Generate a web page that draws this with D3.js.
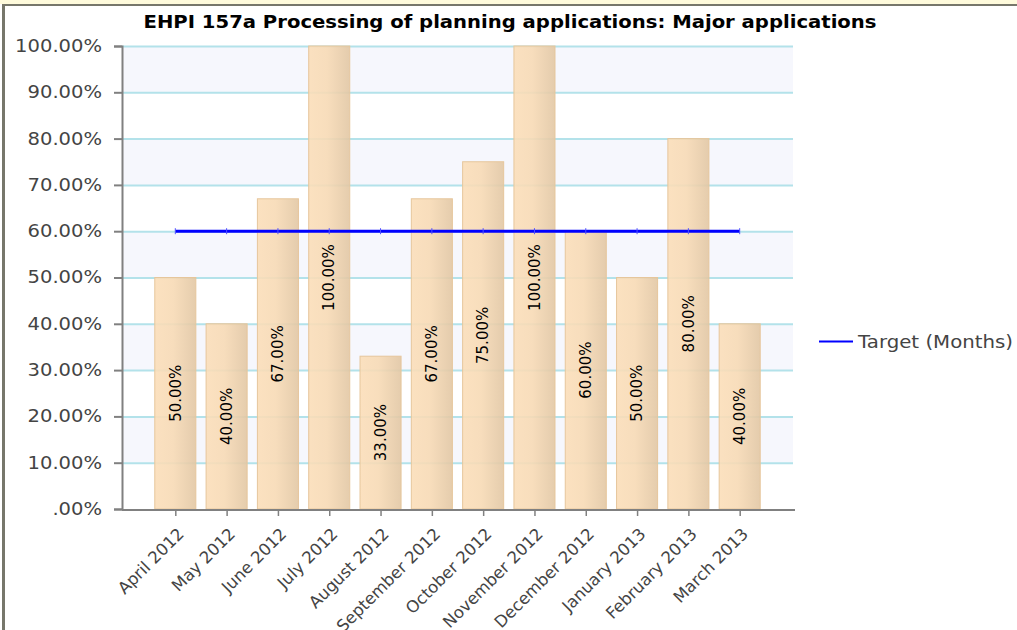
<!DOCTYPE html>
<html><head><meta charset="utf-8">
<script src="https://cdn.jsdelivr.net/npm/d3@7"></script>
<style>
html,body{margin:0;padding:0;background:#fff;overflow:hidden;}
svg{display:block;font-family:"DejaVu Sans",Verdana,sans-serif;}
</style></head>
<body>
<svg id="chart" width="1017" height="630"></svg>
<script>
const title = "EHPI 157a Processing of planning applications: Major applications";
const categories = ["April 2012","May 2012","June 2012","July 2012","August 2012","September 2012","October 2012","November 2012","December 2012","January 2013","February 2013","March 2013"];
const actualValues = [50,40,67,100,33,67,75,100,60,50,80,40];
const targetValues = [60,60,60,60,60,60,60,60,60,60,60,60];
const yTicks = [0,10,20,30,40,50,60,70,80,90,100];
const legendLabel = "Target (Months)";

const svg = d3.select("#chart");
const plot = {left:122, right:793, top:46, bottom:509};

// frame decorations
svg.append("rect").attr("x",0).attr("y",0).attr("width",1017).attr("height",4).attr("fill","#fffbdc");
svg.append("rect").attr("x",2).attr("y",4).attr("width",1015).attr("height",2).attr("fill","#77776b");
svg.append("rect").attr("x",2).attr("y",4).attr("width",3).attr("height",626).attr("fill","#77776b");

const y = d3.scaleLinear().domain([0,100]).range([plot.bottom, plot.top]);
const x = d3.scalePoint().domain(categories).range([124,791]).padding(1);
const barW = x.step()*0.8;

// alternating bands
const bands = d3.range(0,100,10);
svg.append("g").selectAll("rect").data(bands).join("rect")
  .attr("x",plot.left).attr("width",plot.right-plot.left)
  .attr("y",d=>y(d+10)).attr("height",d=>y(d)-y(d+10))
  .attr("fill",(d,i)=> i%2===1 ? "#f6f7fd" : "#ffffff");

// gridlines
svg.append("g").selectAll("line").data(yTicks.filter(d=>d>0)).join("line")
  .attr("x1",plot.left).attr("x2",plot.right)
  .attr("y1",d=>y(d)+0.5).attr("y2",d=>y(d)+0.5)
  .attr("stroke","#b3e2ea").attr("stroke-width",2);

// gradient
const defs = svg.append("defs");
const grad = defs.append("linearGradient").attr("id","barGrad").attr("x1","0%").attr("x2","100%").attr("y1","0%").attr("y2","0%");
grad.append("stop").attr("offset","0%").attr("stop-color","#fbdeb9");
grad.append("stop").attr("offset","45%").attr("stop-color","#f7dab5");
grad.append("stop").attr("offset","100%").attr("stop-color","#e2c7a4");

// bars
svg.append("g").selectAll("rect").data(actualValues).join("rect")
  .attr("x",(d,i)=>x(categories[i])-barW/2)
  .attr("width",barW)
  .attr("y",d=>y(d))
  .attr("height",d=>y(0)-y(d))
  .attr("fill","url(#barGrad)").attr("fill-opacity",0.9)
  .attr("stroke","#e6c69c").attr("stroke-width",1);

// bar labels
svg.append("g").selectAll("text").data(actualValues).join("text")
  .attr("transform",(d,i)=>`translate(${x(categories[i])},${y(d/2)}) rotate(-90)`)
  .attr("text-anchor","middle").attr("dy","0.35em")
  .attr("font-size",15).attr("fill","#000")
  .text(d=>d.toFixed(2)+"%");

// y axis
const yAxis = d3.axisLeft(y).tickValues(yTicks).tickSize(8).tickPadding(12)
  .tickFormat(d=> d===0 ? ".00%" : d.toFixed(2)+"%");
const gy = svg.append("g").attr("transform",`translate(${plot.left},0)`).call(yAxis);
gy.select(".domain").attr("stroke","#808080").attr("stroke-width",2);
gy.selectAll(".tick line").attr("stroke","#808080").attr("stroke-width",2);
gy.selectAll(".tick text").attr("x",0)
  .attr("transform","translate(-20,0) scale(1.15,1)")
  .attr("font-size",17).attr("fill","#444").attr("font-family","DejaVu Sans, sans-serif");

// x axis
const xAxis = d3.axisBottom(x).tickSize(6).tickSizeOuter(0);
const gx = svg.append("g").attr("transform",`translate(0,${plot.bottom+1})`).call(xAxis);
gx.select(".domain").attr("d",`M${plot.left},0H${plot.right+2}`).attr("stroke","#808080").attr("stroke-width",2);
gx.selectAll(".tick line").attr("stroke","#808080").attr("stroke-width",1.5);
gx.selectAll(".tick text")
  .attr("x",0).attr("y",0).attr("dy",0)
  .attr("transform","translate(9,25) rotate(-45)")
  .attr("text-anchor","end")
  .attr("font-size",16.5).attr("fill","#444").attr("font-family","DejaVu Sans, sans-serif");

// target line
const line = d3.line().x((d,i)=>x(categories[i])).y(d=>y(d));
svg.append("path").datum(targetValues).attr("d",line)
  .attr("fill","none").attr("stroke","#0000ff").attr("stroke-width",3);
svg.append("g").selectAll("line").data(targetValues).join("line")
  .attr("x1",(d,i)=>x(categories[i])).attr("x2",(d,i)=>x(categories[i]))
  .attr("y1",d=>y(d)-3).attr("y2",d=>y(d)+3)
  .attr("stroke","#5050ff").attr("stroke-width",1);

// title
svg.append("text").attr("x",510).attr("y",28).attr("text-anchor","middle")
  .attr("font-size",18).attr("font-weight","bold").attr("fill","#000")
  .attr("textLength",733).attr("lengthAdjust","spacingAndGlyphs")
  .text(title);

// legend
const lg = svg.append("g");
lg.append("line").attr("x1",819).attr("x2",853).attr("y1",341.5).attr("y2",341.5)
  .attr("stroke","#0000ff").attr("stroke-width",2);
lg.append("text").attr("x",858).attr("y",348).attr("font-size",17).attr("fill","#444")
  .attr("textLength",155).attr("lengthAdjust","spacingAndGlyphs")
  .text(legendLabel);
</script>
</body></html>
